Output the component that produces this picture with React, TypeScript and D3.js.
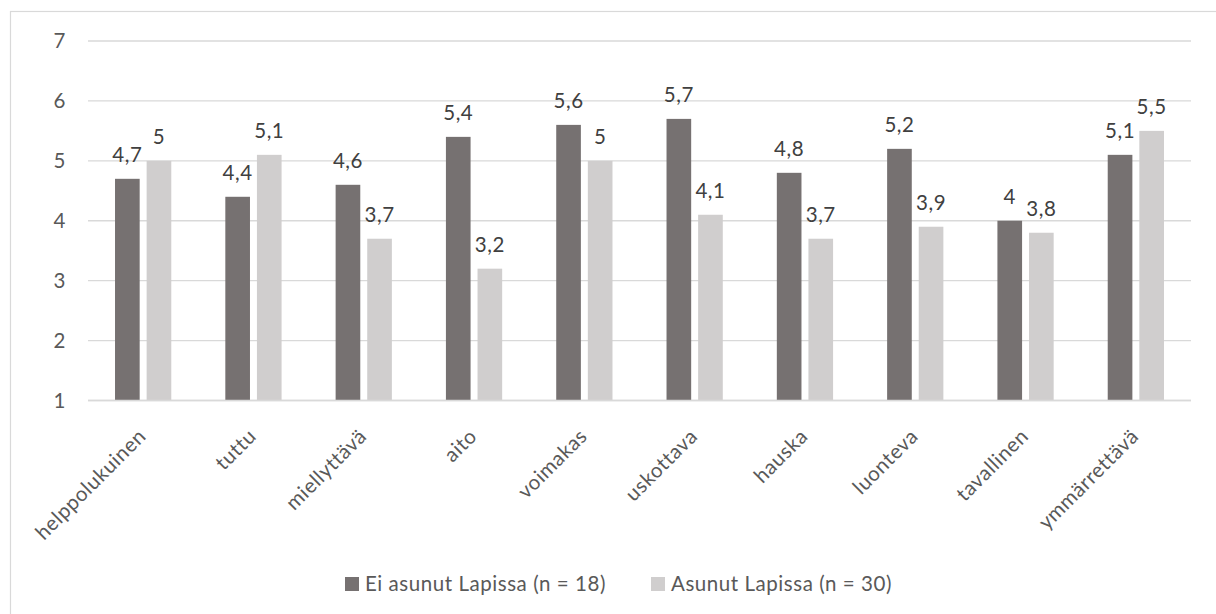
import React from "react";
import * as d3 from "d3";

const categories = [
  "helppolukuinen",
  "tuttu",
  "miellyttävä",
  "aito",
  "voimakas",
  "uskottava",
  "hauska",
  "luonteva",
  "tavallinen",
  "ymmärrettävä",
];
const seriesNames = ["Ei asunut Lapissa (n = 18)", "Asunut Lapissa (n = 30)"];
const eiAsunut = [4.7, 4.4, 4.6, 5.4, 5.6, 5.7, 4.8, 5.2, 4.0, 5.1];
const asunut = [5.0, 5.1, 3.7, 3.2, 5.0, 4.1, 3.7, 3.9, 3.8, 5.5];
const yTicks = [1, 2, 3, 4, 5, 6, 7];
const colors = ["#767171", "#d0cece"];

const W = 1216;
const H = 614;
const FONT = "Lato, 'Open Sans', sans-serif";
const FS = 20.5;
const LS = 0.55;

export default function App() {
  const x0 = d3.scaleBand<string>().domain(categories).range([88, 1191]).paddingInner(0.49).paddingOuter(0.245);
  const x1 = d3.scaleBand<string>().domain(seriesNames).range([0, x0.bandwidth()]).paddingInner(0.22);
  const y = d3.scaleLinear().domain([1, 7]).range([400.5, 41]);
  const values = [eiAsunut, asunut];
  const fmt = (v: number) => String(v).replace(".", ",");

  return (
    <svg width={W} height={H} style={{ position: "absolute", left: 0, top: 0, fontFamily: FONT, letterSpacing: LS }}>
      <rect x={0} y={0} width={W} height={H} fill="#fff" />
      <rect x={10.5} y={11.5} width={W + 20} height={H + 20} fill="none" stroke="#d9d9d9" strokeWidth={1.2} />
      {yTicks.map((t) => (
        <g key={t}>
          <line x1={88} x2={1191} y1={y(t)} y2={y(t)} stroke="#d9d9d9" strokeWidth={1.4} />
          <text x={66} y={y(t)} dy="0.36em" textAnchor="end" fontSize={FS} fill="#595959">
            {t}
          </text>
        </g>
      ))}
      {categories.map((c, i) => (
        <g key={c} transform={`translate(${x0(c)},0)`}>
          {seriesNames.map((s, si) => {
            const v = values[si][i];
            const bx = x1(s)!;
            return (
              <g key={s}>
                <rect x={bx} y={y(v)} width={x1.bandwidth()} height={y(1) - y(v)} fill={colors[si]} />
                <text
                  x={bx + x1.bandwidth() / 2}
                  y={y(v) - 17}
                  textAnchor="middle"
                  fontSize={FS}
                  fill="#404040"
                >
                  {fmt(v)}
                </text>
              </g>
            );
          })}
        </g>
      ))}
      <line x1={88} x2={1191} y1={y(1)} y2={y(1)} stroke="#d9d9d9" strokeWidth={1.4} />
      {categories.map((c) => {
        const cx = x0(c)! + x0.bandwidth() / 2 - 1;
        return (
          <text
            key={c}
            transform={`translate(${cx},${y(1) + 32}) rotate(-45)`}
            textAnchor="end"
            dy="0.35em"
            fontSize={FS}
            fill="#595959"
          >
            {c}
          </text>
        );
      })}
      {seriesNames.map((s, i) => {
        const lx = i === 0 ? 345 : 651;
        return (
          <g key={s}>
            <rect x={lx} y={577} width={14} height={14} fill={colors[i]} />
            <text x={lx + 20} y={584} dy="0.36em" fontSize={FS} fill="#595959">
              {s}
            </text>
          </g>
        );
      })}
    </svg>
  );
}
